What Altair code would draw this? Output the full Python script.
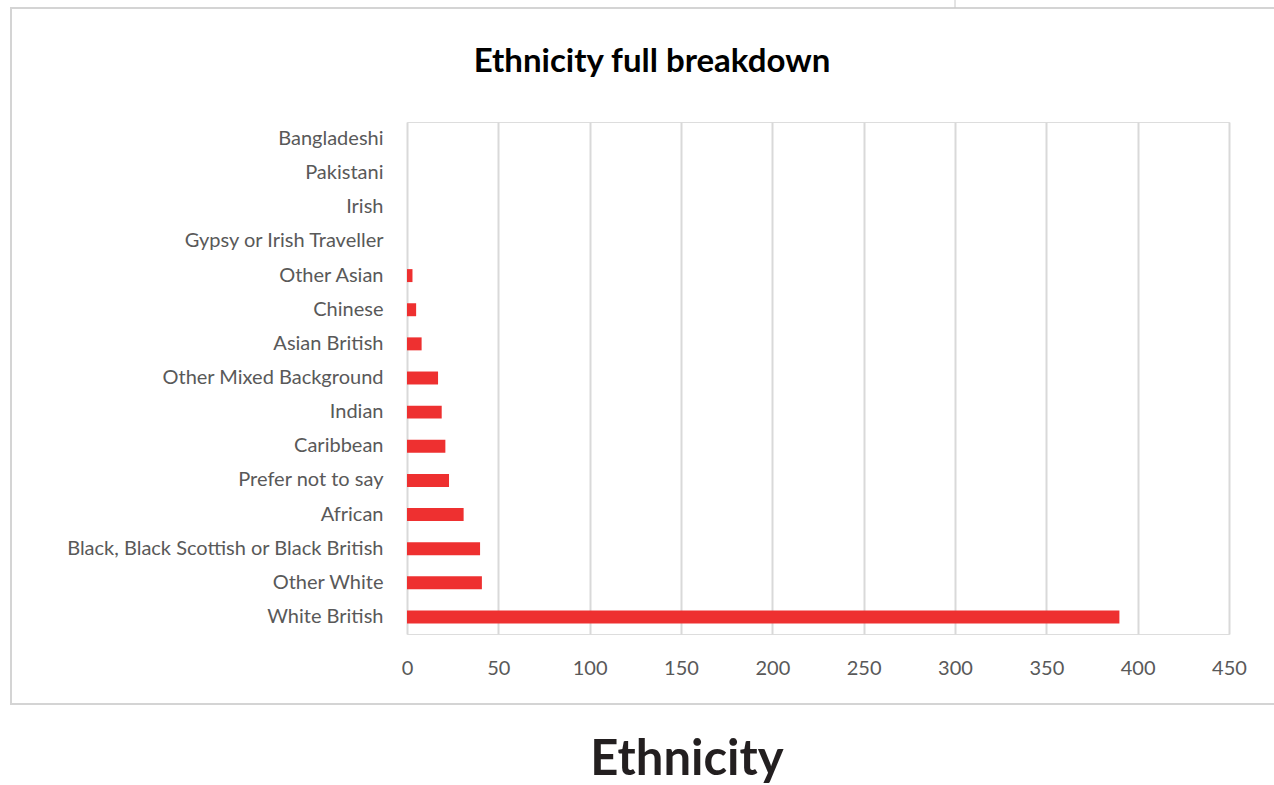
import altair as alt
import pandas as pd

# Respondent counts by ethnicity, top of the list first
categories = [
    "Bangladeshi", "Pakistani", "Irish", "Gypsy or Irish Traveller",
    "Other Asian", "Chinese", "Asian British", "Other Mixed Background",
    "Indian", "Caribbean", "Prefer not to say", "African",
    "Black, Black Scottish or Black British", "Other White", "White British",
]
counts = [0, 0, 0, 0, 3, 5, 8, 17, 19, 21, 23, 31, 40, 41, 390]
x_ticks = [0, 50, 100, 150, 200, 250, 300, 350, 400, 450]

df = pd.DataFrame({"ethnicity": categories, "count": counts})
one = alt.Data(values=[{"k": 0}])

W, H = 822, 512
LEFT, TOP = 407, 122
LABEL_FONT = "Lato"
GREY = "#595959"

bars = alt.Chart(df).mark_bar(color="#EE3030").encode(
    x=alt.X(
        "count:Q",
        scale=alt.Scale(domain=[0, 450], nice=False),
        axis=alt.Axis(
            values=x_ticks, title=None, domain=False, ticks=False,
            grid=True, gridColor="#d9d9d9", gridWidth=2,
            labelFont=LABEL_FONT, labelFontSize=20, labelColor=GREY,
            labelPadding=24, labelFlush=False,
        ),
    ),
    y=alt.Y(
        "ethnicity:N",
        sort=categories,
        scale=alt.Scale(paddingInner=0.62, paddingOuter=0.31),
        axis=alt.Axis(
            title=None, domain=False, ticks=False, grid=False,
            labelFont=LABEL_FONT, labelFontSize=20, labelColor=GREY,
            labelPadding=24, labelLimit=400,
        ),
    ),
)

# Chart frame and the page furniture around it
frame = alt.Chart(one).mark_rect(
    fill=None, stroke="#d4d4d4", strokeWidth=2
).encode(
    x=alt.value(11 - LEFT), x2=alt.value(1290 - LEFT),
    y=alt.value(8 - TOP), y2=alt.value(704 - TOP),
)

divider = alt.Chart(one).mark_rule(color="#c8c8c8", strokeWidth=1).encode(
    x=alt.value(955 - LEFT), y=alt.value(0 - TOP), y2=alt.value(8 - TOP),
)

title = alt.Chart(one).mark_text(
    text="Ethnicity full breakdown", font=LABEL_FONT, fontWeight="bold",
    fontSize=33, color="#000000", align="center", baseline="alphabetic",
).encode(x=alt.value(652 - LEFT), y=alt.value(72 - TOP))

caption = alt.Chart(one).mark_text(
    text="Ethnicity", font="Lato", fontWeight="bold",
    fontSize=49, color="#231f20", align="center", baseline="alphabetic",
).encode(x=alt.value(687 - LEFT), y=alt.value(775 - TOP))

chart = alt.layer(frame, divider, bars, title, caption).properties(
    width=W, height=H,
    padding={"left": LEFT, "top": TOP, "right": 1274 - LEFT - W, "bottom": 785 - TOP - H},
    autosize=alt.AutoSizeParams(type="none"),
).configure_view(stroke="transparent", strokeWidth=0).configure(background="#ffffff")

chart.save("out.html", embed_options={"renderer": "svg", "actions": False})
